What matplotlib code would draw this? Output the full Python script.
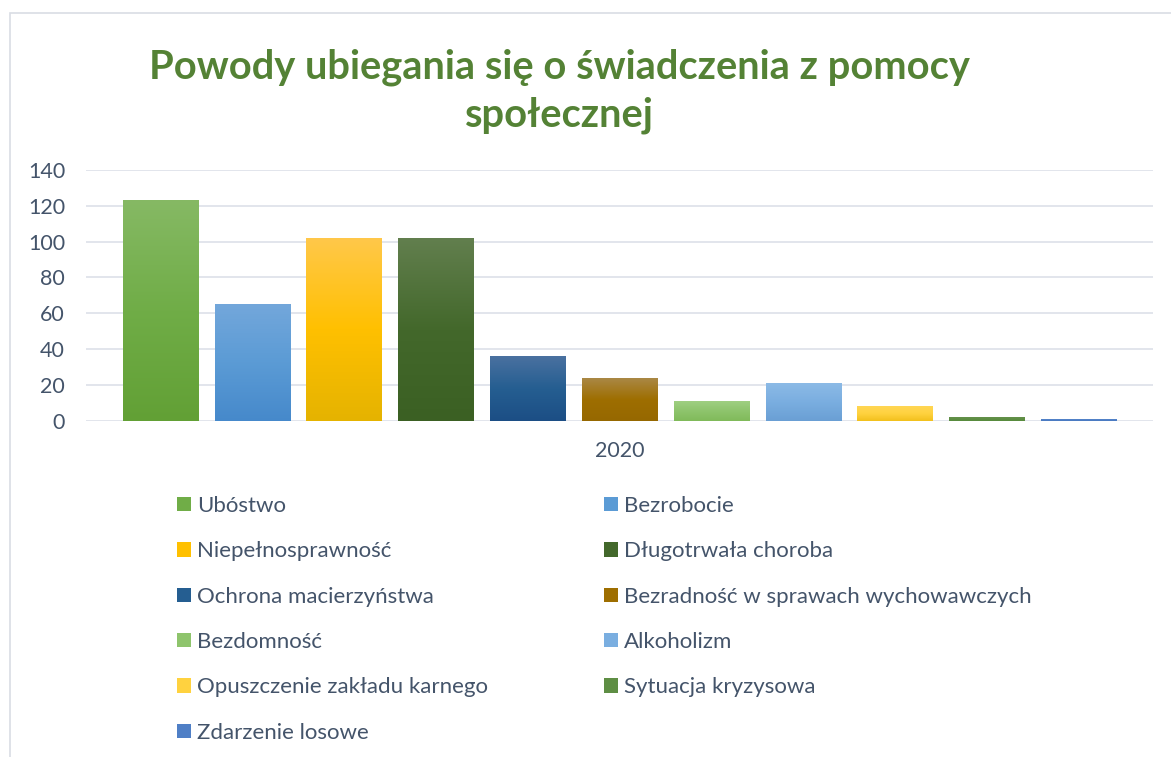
import numpy as np
import matplotlib
matplotlib.use('Agg')
import matplotlib.pyplot as plt
from matplotlib.colors import LinearSegmentedColormap
from matplotlib.patches import Patch, Rectangle

# Data
categories = ['Ubóstwo', 'Bezrobocie', 'Niepełnosprawność', 'Długotrwała choroba',
              'Ochrona macierzyństwa', 'Bezradność w sprawach wychowawczych',
              'Bezdomność', 'Alkoholizm', 'Opuszczenie zakładu karnego',
              'Sytuacja kryzysowa', 'Zdarzenie losowe']
values = [123, 65, 102, 102, 36, 24, 11, 21, 8, 2, 1]
year_label = '2020'
y_ticks = [0, 20, 40, 60, 80, 100, 120, 140]

# gradient colours per bar: (top, middle, bottom)
bar_colors = [
    ('#86b964', '#70ad47', '#62a035'),
    ('#73a7db', '#5b9bd5', '#4689cb'),
    ('#ffc84a', '#ffc000', '#e5b300'),
    ('#627f4e', '#43682b', '#3b6023'),
    ('#4a71a0', '#255e91', '#1c4e85'),
    ('#aa8845', '#9e6e00', '#966800'),
    ('#9fcf82', '#8ec46c', '#80ba5a'),
    ('#8cbae6', '#7aaee0', '#6a9fd4'),
    ('#ffd654', '#ffd23f', '#f2c01c'),
    ('#64904a', '#5e8e44', '#578a3d'),
    ('#5585c9', '#4f7fc6', '#4777bf'),
]

text_color = '#44546a'
grid_color = '#dfe3ea'
title_color = '#548235'
font = ['Lato', 'DejaVu Sans']
plt.rcParams['font.family'] = font

fig = plt.figure(figsize=(11.71, 7.57), dpi=100)
ax = fig.add_axes([0.0734, 0.4445, 0.9846 - 0.0734, 0.7754 - 0.4445])

x = np.arange(len(values))
bars = ax.bar(x, values, width=0.817, color='none', zorder=3)

# paint each bar with a vertical gradient
for b, (top, mid, bot) in zip(bars, bar_colors):
    cmap = LinearSegmentedColormap.from_list('g', [bot, mid, top])
    grad = np.linspace(0, 1, 256).reshape(-1, 1)
    bx, by = b.get_x(), b.get_y()
    ax.imshow(grad, extent=[bx, bx + b.get_width(), by, by + b.get_height()],
              origin='lower', aspect='auto', cmap=cmap, zorder=3)

ax.set_xlim(-0.809, 10.811)
ax.set_ylim(0, 140)
ax.set_yticks(y_ticks)
ax.set_xticks([(len(values) - 1) / 2])
ax.set_xticklabels([year_label])
ax.yaxis.grid(True, color=grid_color, linewidth=1.3, zorder=0)
ax.set_axisbelow(True)
for s in ax.spines.values():
    s.set_visible(False)
ax.tick_params(axis='both', length=0, labelsize=15.5, labelcolor=text_color)
ax.tick_params(axis='y', pad=15)
ax.tick_params(axis='x', pad=15)

# title
fig.text(559 / 1171, 1 - 78 / 757, 'Powody ubiegania się o świadczenia z pomocy',
         ha='center', va='baseline', fontsize=28.7, fontweight='bold', color=title_color)
fig.text(559 / 1171, 1 - 127 / 757, 'społecznej',
         ha='center', va='baseline', fontsize=28.7, fontweight='bold', color=title_color)

# legend, filled row by row like the original
handles = [Patch(facecolor=c[1], edgecolor='none') for c in bar_colors]
order = list(range(0, len(values), 2)) + list(range(1, len(values), 2))
leg = fig.legend([handles[i] for i in order], [categories[i] for i in order],
                 ncol=2, loc='upper left', bbox_to_anchor=(177 / 1171, 1 - 496 / 757),
                 frameon=False, fontsize=16, borderpad=0, borderaxespad=0,
                 handlelength=0.63, handleheight=0.63, handletextpad=0.27,
                 labelspacing=1.14, columnspacing=5.2)
for t in leg.get_texts():
    t.set_color(text_color)

# light outer frame of the chart
fig.patches.append(Rectangle((10 / 1171, -0.1), 1.2, 1.1 - 13 / 757, transform=fig.transFigure,
                             fill=False, edgecolor='#d9dde4', linewidth=1.2))

fig.savefig('out.png', dpi=100)
